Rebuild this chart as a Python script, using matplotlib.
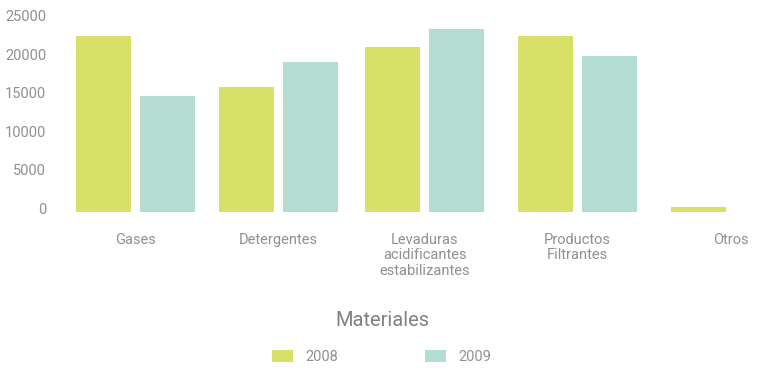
import numpy as np
import matplotlib.pyplot as plt
from matplotlib.transforms import ScaledTranslation

# materiales consumidos por año
categorias = ["Gases", "Detergentes", "Levaduras\nacidificantes\nestabilizantes",
              "Productos\nFiltrantes", "Otros"]
valores_2008 = [23000, 16300, 21500, 23000, 700]
valores_2009 = [15100, 19600, 23900, 20400, 0]
ticks_y = [0, 5000, 10000, 15000, 20000, 25000]

c2008 = '#d8e068'
c2009 = '#b3ddd3'
gris = '#909090'

plt.rcParams['font.family'] = ['Roboto', 'DejaVu Sans']

fig = plt.figure(figsize=(7.62, 3.68), dpi=100)
W, H = 762, 368
# ejes en pixeles: izquierda 60, base 212.3, alto 199.7
ax = fig.add_axes([60 / W, (H - 212.3) / H, (W - 60) / W, 199.7 / H])

grupos = np.array([0, 0.96, 1.94, 2.966, 3.993])  # centro de cada grupo
ancho = 55 / 149
sep = 64 / 149

ax.bar(grupos - sep / 2, valores_2008, width=ancho, color=c2008, label='2008')
ax.bar(grupos + sep / 2, valores_2009, width=ancho, color=c2009, label='2009')

ax.set_xlim((60 - 135.5) / 149, (W - 135.5) / 149)
ax.set_ylim(0, 26000)

ax.set_yticks(ticks_y)
ax.set_yticklabels([str(t) for t in ticks_y])
ax.set_xticks(grupos)
ax.set_xticklabels(categorias, linespacing=1.12)
ax.tick_params(axis='y', length=0, pad=10, labelsize=10.5, labelcolor=gris)
ax.tick_params(axis='x', length=0, pad=15, labelsize=10.5, labelcolor=gris)

# etiquetas del eje y un poco por encima de su valor
desplaz = ScaledTranslation(0, 4.3 / 100, fig.dpi_scale_trans)
for lab in ax.get_yticklabels():
    lab.set_transform(lab.get_transform() + desplaz)

for s in ax.spines.values():
    s.set_visible(False)

fig.text(382 / W, (H - 321) / H, 'Materiales', ha='center', va='center',
         fontsize=14.5, color='#808080')

fig.legend(loc='center', bbox_to_anchor=(381.5 / W, (H - 357) / H), ncol=2,
           frameon=False, fontsize=10.5, labelcolor=gris, borderpad=0,
           handlelength=1.45, handleheight=0.85, handletextpad=0.8,
           columnspacing=6.0)

plt.savefig('out.png', dpi=100)
